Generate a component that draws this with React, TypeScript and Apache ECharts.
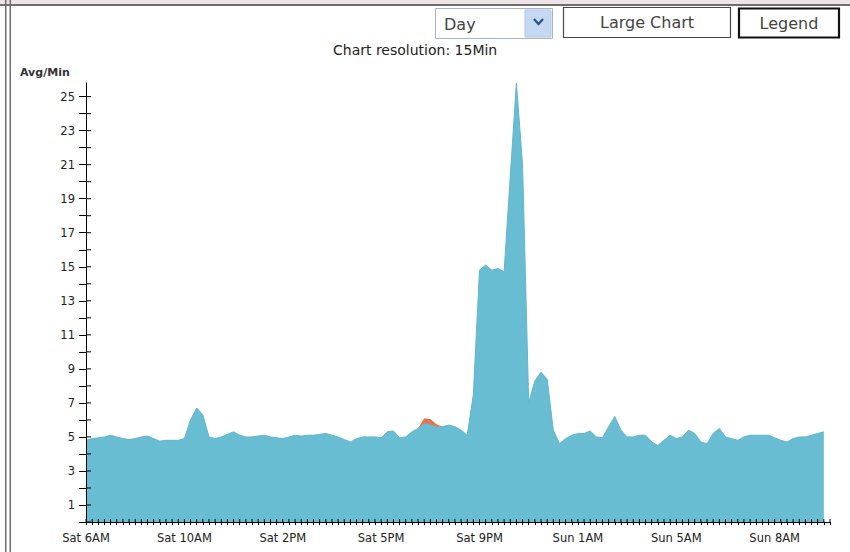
import React, { useEffect, useRef } from "react";
import * as echarts from "echarts";

const xTickLabels = ["Sat 6AM", "Sat 10AM", "Sat 2PM", "Sat 5PM", "Sat 9PM", "Sun 1AM", "Sun 5AM", "Sun 8AM"];
const yTickValues = [0, 1, 2, 3, 4, 5, 6, 7, 8, 9, 10, 11, 12, 13, 14, 15, 16, 17, 18, 19, 20, 21, 22, 23, 24, 25];
const yTickLabels = [1, 3, 5, 7, 9, 11, 13, 15, 17, 19, 21, 23, 25];

const avgPerMin = [
  4.8, 4.9, 4.95, 5.0, 5.1, 5.0, 4.9, 4.85, 4.9, 5.0,
  5.05, 4.9, 4.75, 4.8, 4.8, 4.8, 4.9, 6.0, 6.7, 6.3,
  5.0, 4.9, 5.0, 5.15, 5.3, 5.1, 5.0, 5.0, 5.05, 5.1,
  5.0, 4.95, 4.9, 5.0, 5.1, 5.05, 5.1, 5.1, 5.15, 5.2,
  5.1, 5.0, 4.85, 4.7, 4.9, 5.0, 5.0, 5.0, 4.95, 5.3,
  5.35, 4.95, 5.0, 5.3, 5.5, 5.8, 5.75, 5.6, 5.6, 5.7,
  5.6, 5.4, 5.1, 7.5, 14.8, 15.1, 14.8, 14.9, 14.7, 20.3,
  25.8, 21.0, 7.0, 8.3, 8.8, 8.4, 5.4, 4.6, 4.9, 5.1,
  5.2, 5.2, 5.35, 5.0, 4.95, 5.6, 6.2, 5.4, 5.0, 5.0,
  5.1, 5.1, 4.7, 4.5, 4.8, 5.1, 4.9, 5.0, 5.4, 5.2,
  4.7, 4.6, 5.2, 5.5, 5.0, 4.9, 4.8, 5.0, 5.1, 5.1,
  5.1, 5.1, 4.95, 4.8, 4.7, 4.9, 5.0, 5.0, 5.1, 5.2,
  5.3,
];

// second (orange) series, only present for a short stretch
const orangeStart = 54;
const orangeValues = [0, 0.3, 0.3, 0.15, 0];

const SLOT_COUNT = 122;
const LABEL_EVERY = 16;

const BLUE = "#69bdd3";
const ORANGE = "#e07650";
const FONT = "DejaVu Sans";

export default function App() {
  const ref = useRef<HTMLDivElement>(null);

  useEffect(() => {
    if (!ref.current) return;
    const chart = echarts.init(ref.current, undefined, { renderer: "svg" });

    const cats = Array.from({ length: SLOT_COUNT }, (_, i) => String(i));
    const orangeData = avgPerMin.map((_, i) => {
      const k = i - orangeStart;
      return k >= 0 && k < orangeValues.length ? orangeValues[k] : null;
    });

    // inner halves of the crossing ("+") axis ticks, positioned through the axes' scales
    const yInnerTicks = yTickValues.map((v) => [0, v]);
    const xInnerTicks = cats.map((_, i) => [i, 0]);

    const option: any = {
      animation: false,
      backgroundColor: "#ffffff",
      title: {
        text: "Chart resolution: 15Min",
        left: 333,
        top: 43,
        padding: 0,
        textStyle: { fontSize: 14, fontWeight: "normal", color: "#222", fontFamily: FONT },
      },
      grid: { left: 86, right: 20, top: 83, bottom: 30, containLabel: false },
      xAxis: {
        type: "category",
        data: cats,
        boundaryGap: false,
        position: "bottom",
        z: 10,
        axisLine: { show: true, onZero: false, lineStyle: { color: "#000", width: 1 } },
        splitLine: { show: false },
        axisTick: { show: true, inside: false, length: 3, interval: 0, lineStyle: { color: "#000" } },
        axisLabel: {
          show: true,
          interval: LABEL_EVERY - 1,
          margin: 10,
          fontSize: 11.5,
          fontFamily: FONT,
          color: "#222",
          formatter: (_v: string, idx: number) =>
            idx % LABEL_EVERY === 0 ? xTickLabels[idx / LABEL_EVERY] ?? "" : "",
        },
      },
      yAxis: {
        type: "value",
        min: 0,
        max: 25.8,
        interval: 1,
        position: "left",
        z: 10,
        axisLine: { show: true, onZero: false, lineStyle: { color: "#000", width: 1 } },
        splitLine: { show: false },
        axisTick: { show: true, inside: false, length: 7, customValues: yTickValues, lineStyle: { color: "#000" } },
        axisLabel: {
          show: true,
          customValues: yTickLabels,
          margin: 11,
          fontSize: 11.5,
          fontFamily: FONT,
          color: "#222",
        },
      },
      series: [
        {
          name: "Avg/Min",
          type: "line",
          stack: "total",
          data: avgPerMin,
          symbol: "none",
          smooth: false,
          lineStyle: { color: "#62b5cb", width: 1 },
          areaStyle: { color: BLUE, opacity: 1 },
          z: 1,
        },
        {
          name: "Other",
          type: "line",
          stack: "total",
          data: orangeData,
          symbol: "none",
          lineStyle: { width: 0, color: ORANGE },
          areaStyle: { color: ORANGE, opacity: 1 },
          z: 2,
        },
        {
          name: "yInnerTicks",
          type: "custom",
          data: yInnerTicks,
          clip: false,
          silent: true,
          z: 20,
          encode: { x: 0, y: 1 },
          renderItem: (_params: any, api: any) => {
            const p = api.coord([api.value(0), api.value(1)]);
            return {
              type: "line",
              shape: { x1: p[0], y1: p[1], x2: p[0] + 5, y2: p[1] },
              style: { stroke: "#000", lineWidth: 1 },
            };
          },
        },
        {
          name: "xInnerTicks",
          type: "custom",
          data: xInnerTicks,
          clip: false,
          silent: true,
          z: 20,
          encode: { x: 0, y: 1 },
          renderItem: (_params: any, api: any) => {
            const p = api.coord([api.value(0), api.value(1)]);
            return {
              type: "line",
              shape: { x1: p[0], y1: p[1], x2: p[0], y2: p[1] - 3 },
              style: { stroke: "#000", lineWidth: 1 },
            };
          },
        },
      ],
      graphic: {
        elements: [
          // top strip
          { type: "rect", shape: { x: 0, y: 0, width: 850, height: 4 }, style: { fill: "#eee3e6" }, z: 10 },
          { type: "rect", shape: { x: 0, y: 4, width: 850, height: 2 }, style: { fill: "#6e6e6e" }, z: 10 },
          // left double border
          { type: "rect", shape: { x: 5, y: 0, width: 1.5, height: 552 }, style: { fill: "#6e6e6e" }, z: 10 },
          { type: "rect", shape: { x: 9.5, y: 0, width: 1.5, height: 552 }, style: { fill: "#6e6e6e" }, z: 10 },
          // y axis name
          {
            type: "text",
            x: 20,
            y: 72,
            style: { text: "Avg/Min", fontSize: 11, fontWeight: "bold", fontFamily: FONT, fill: "#333", textVerticalAlign: "middle" },
            z: 10,
          },
          // select "Day"
          { type: "rect", shape: { x: 435.5, y: 8.5, width: 117, height: 30 }, style: { fill: "#fff", stroke: "#a7b4c6", lineWidth: 1 }, z: 10 },
          { type: "rect", shape: { x: 525, y: 10, width: 26, height: 27 }, style: { fill: "#c6d9f3", stroke: "#b3c7e6", lineWidth: 1 }, z: 10 },
          {
            type: "polyline",
            shape: { points: [[534, 19], [538.5, 24], [543, 19]] },
            style: { stroke: "#2b4f93", lineWidth: 2.2, fill: null },
            z: 11,
          },
          {
            type: "text",
            x: 444,
            y: 24,
            style: { text: "Day", fontSize: 16, fontFamily: FONT, fill: "#444", textVerticalAlign: "middle" },
            z: 11,
          },
          // "Large Chart" button
          { type: "rect", shape: { x: 563.5, y: 7.5, width: 167, height: 30 }, style: { fill: "#fff", stroke: "#4a4a4a", lineWidth: 1.2 }, z: 10 },
          {
            type: "text",
            x: 647,
            y: 22,
            style: { text: "Large Chart", fontSize: 16, fontFamily: FONT, fill: "#444", textAlign: "center", textVerticalAlign: "middle" },
            z: 11,
          },
          // "Legend" button
          { type: "rect", shape: { x: 739, y: 8.5, width: 100, height: 29 }, style: { fill: "#fff", stroke: "#111", lineWidth: 2.2 }, z: 10 },
          {
            type: "text",
            x: 789,
            y: 23,
            style: { text: "Legend", fontSize: 16, fontFamily: FONT, fill: "#444", textAlign: "center", textVerticalAlign: "middle" },
            z: 11,
          },
        ],
      },
    };

    chart.setOption(option);
    return () => chart.dispose();
  }, []);

  return (
    <div
      ref={ref}
      style={{ position: "fixed", left: 0, top: 0, width: 850, height: 552, background: "#fff" }}
    />
  );
}
